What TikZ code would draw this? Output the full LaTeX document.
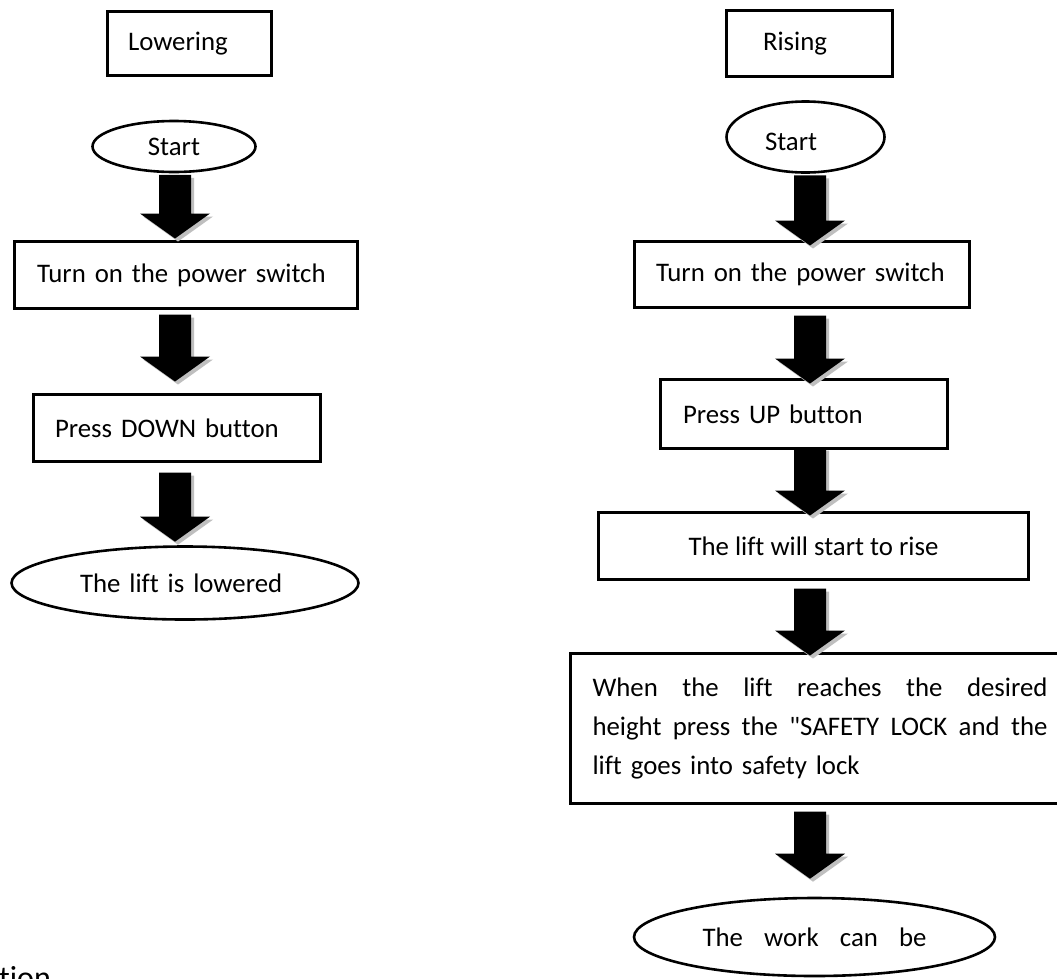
\documentclass[tikz,border=0pt]{standalone}
\usepackage{fontspec}
\setmainfont{Carlito}[Ligatures={TeXOff,CommonOff}]
\usetikzlibrary{shapes.geometric,calc}
\newcommand\blockarrow[2]{%
 \fill[gray!50] let \p1=#1, \p2=#2 in (\x1-13pt,\y1-3pt) -- (\x1+19pt,\y1-3pt) -- (\x1+19pt,\y2+22pt) -- (\x1+38pt,\y2+22pt) -- (\x1+3pt,\y2-3pt) -- (\x1-32pt,\y2+22pt) -- (\x1-13pt,\y2+22pt) -- cycle;
 \fill[black] let \p1=#1, \p2=#2 in (\x1-16pt,\y1) -- (\x1+16pt,\y1) -- (\x1+16pt,\y2+25pt) -- (\x1+35pt,\y2+25pt) -- (\x1,\y2) -- (\x1-35pt,\y2+25pt) -- (\x1-16pt,\y2+25pt) -- cycle;
}
\begin{document}
\begin{tikzpicture}[x=1pt,y=1pt,
 every node/.style={font=\fontsize{26.8}{39}\selectfont},
 box/.style={draw, line width=3pt, rectangle, align=left, inner sep=0pt},
 oval/.style={draw, line width=2.6pt, ellipse, inner sep=0pt, align=left},
]
\clip (0,0) rectangle (1057,-978);
\fill[white] (0,0) rectangle (1057,-978);
\coordinate (cl) at (175,0);
\coordinate (cr) at (810,0);
% left column
\node[box, minimum height=64, text width=164] (low) at (189.5,-43.5) {\hspace*{20.5pt}Lowering};
\node[oval, minimum width=163, minimum height=51, align=center] (st1) at (174,-146.5) {Start};
\node[box, minimum height=67, text width=343] (pw1) at (186,-275) {\hspace*{22.5pt}Turn on the power switch};
\node[box, minimum height=67, text width=287] (dn) at (177,-428) {\hspace*{21.5pt}Press DOWN button};
\node[oval, minimum width=347, minimum height=73, text width=210] (lowd) at (185,-583) {The lift is lowered};
% right column
\node[box, minimum height=66, text width=166] (rise) at (809.5,-43.5) {\hspace*{36.5pt}Rising};
\node[oval, minimum width=158, minimum height=71, text width=81, text height=27pt, text depth=0pt] (st2) at (805.5,-137) {Start};
\node[box, minimum height=66, text width=335] (pw2) at (802,-274.5) {\hspace*{21.5pt}Turn on the power switch};
\node[box, minimum height=69, text width=287] (up) at (804,-414) {\hspace*{22.5pt}Press UP button};
\node[box, minimum width=430, minimum height=67, align=center] (lr) at (813.5,-546) {The lift will start to rise};
\node[box, minimum height=150, text width=455, inner xsep=22.5, anchor=west] (safe) at (568.5,-728.5)
 {\makebox[455pt][l]{When\hfill the\hfill lift\hfill reaches\hfill the\hfill desired}\\
  \makebox[455pt][l]{height\hfill press\hfill the\hfill "SAFETY\hfill LOCK\hfill and\hfill the}\\
  lift goes into safety lock};
\node[oval, minimum width=361, minimum height=78, align=center] (work) at (814.5,-937) {\makebox[224pt][l]{The\hfill work\hfill can\hfill be}};
\node[anchor=base west, font=\fontsize{32}{38}\selectfont, inner sep=0pt] (tion) at (-1,-988) {tion};
% arrows
\blockarrow{($(cl |- st1.south)+(0,-1.5)$)}{($(cl |- pw1.north)+(0,1.5)$)}
\blockarrow{($(cl |- pw1.south)+(0,-4.5)$)}{($(cl |- dn.north)+(0,11.5)$)}
\blockarrow{($(cl |- dn.south)+(0,-9.5)$)}{($(cl |- lowd.north)+(0,3.5)$)}
\blockarrow{($(cr |- st2.south)+(0,-1.5)$)}{($(cr |- pw2.north)+(0,-5.5)$)}
\blockarrow{($(cr |- pw2.south)+(0,-6.5)$)}{($(cr |- up.north)+(0,-5.5)$)}
\blockarrow{($(cr |- up.south)+(0,2.5)$)}{($(cr |- lr.north)+(0,-4.5)$)}
\blockarrow{($(cr |- lr.south)+(0,-7.5)$)}{($(cr |- safe.north)+(0,-3.5)$)}
\blockarrow{($(cr |- safe.south)+(0,-6.5)$)}{($(cr |- work.north)+(0,18)$)}
\end{tikzpicture}
\end{document}
